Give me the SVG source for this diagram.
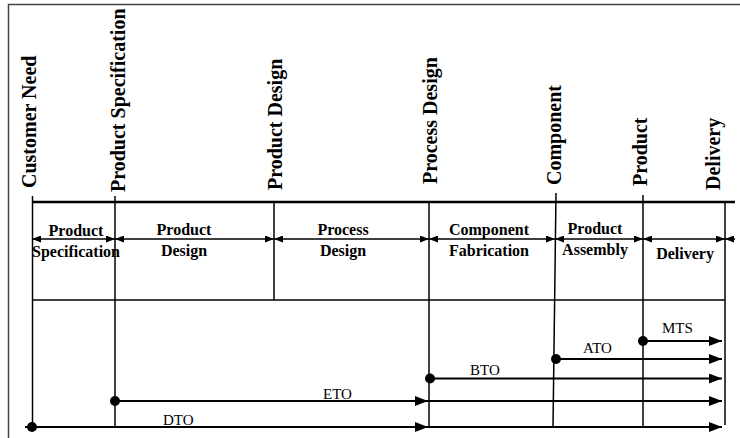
<svg xmlns="http://www.w3.org/2000/svg" width="740" height="438" viewBox="0 0 740 438">
<style>
.frame{stroke:#444;stroke-width:1.5;fill:none}
.axis{stroke:#000;stroke-width:2.5;fill:none}
.vl{stroke:#000;stroke-width:1.5;fill:none}
.phase{stroke:#000;stroke-width:1.5;fill:none;marker-start:url(#sa);marker-end:url(#sa)}
.flow{stroke:#000;stroke-width:2.2;fill:none;marker-end:url(#ba)}
.ms{font-family:"Liberation Serif","Times New Roman",serif;font-weight:bold;font-size:20px;fill:#000}
.ph{font-family:"Liberation Serif","Times New Roman",serif;font-weight:bold;font-size:16px;fill:#000;text-anchor:middle}
.st{font-family:"Liberation Serif","Times New Roman",serif;font-size:15px;fill:#000}
.dot{fill:#000}
</style>
<defs>
<marker id="sa" viewBox="0 0 9 7" refX="9" refY="3.5" markerWidth="9" markerHeight="7" markerUnits="userSpaceOnUse" orient="auto-start-reverse"><path d="M0,0 L9,3.5 L0,7 z" fill="#000"/></marker>
<marker id="ba" viewBox="0 0 13 10" refX="13" refY="5" markerWidth="13" markerHeight="10" markerUnits="userSpaceOnUse" orient="auto"><path d="M0,0 L13,5 L0,10 z" fill="#000"/></marker>
</defs>
<rect width="740" height="438" fill="#fff"/>
<path class="frame" d="M8.5,438 V4.5 H740"/>
<line class="axis" x1="32" y1="202" x2="735" y2="202"/>
<line class="vl" x1="32" y1="300" x2="725" y2="300"/>

<g id="m-customer-need"><line class="vl" x1="32.5" y1="196" x2="32.5" y2="427"/><text class="ms" transform="translate(36,188) rotate(-90)">Customer Need</text></g>
<g id="m-product-specification"><line class="vl" x1="115" y1="196" x2="115" y2="427"/><text class="ms" transform="translate(125,192) rotate(-90)">Product Specification</text></g>
<g id="m-product-design"><line class="vl" x1="274" y1="202" x2="274" y2="300"/><text class="ms" transform="translate(282,190) rotate(-90)">Product Design</text></g>
<g id="m-process-design"><line class="vl" x1="429" y1="202" x2="429" y2="427"/><text class="ms" transform="translate(437,184) rotate(-90)">Process Design</text></g>
<g id="m-component"><line class="vl" x1="556" y1="193" x2="553" y2="427"/><text class="ms" transform="translate(561,185) rotate(-90)">Component</text></g>
<g id="m-product"><line class="vl" x1="643" y1="195" x2="643" y2="427"/><text class="ms" transform="translate(647,186) rotate(-90)">Product</text></g>
<g id="m-delivery"><line class="vl" x1="725" y1="202" x2="725" y2="425"/><text class="ms" transform="translate(720,190) rotate(-90)">Delivery</text></g>

<g id="phases">
<g id="p-product-specification"><line class="phase" x1="32" y1="239" x2="115" y2="239"/><text class="ph" x="76" y="236">Product</text><text class="ph" x="76" y="257">Specification</text></g>
<g id="p-product-design"><line class="phase" x1="115" y1="239" x2="274" y2="239"/><text class="ph" x="184" y="235">Product</text><text class="ph" x="184" y="256">Design</text></g>
<g id="p-process-design"><line class="phase" x1="274" y1="239" x2="429" y2="239"/><text class="ph" x="343" y="235">Process</text><text class="ph" x="343" y="256">Design</text></g>
<g id="p-component-fabrication"><line class="phase" x1="429" y1="239" x2="555" y2="239"/><text class="ph" x="489" y="235">Component</text><text class="ph" x="489" y="256">Fabrication</text></g>
<g id="p-product-assembly"><line class="phase" x1="555" y1="239" x2="643" y2="239"/><text class="ph" x="595" y="234">Product</text><text class="ph" x="595" y="255">Assembly</text></g>
<g id="p-delivery"><line class="phase" x1="643" y1="239" x2="725" y2="239"/><text class="ph" x="685" y="259">Delivery</text></g>
<line x1="725" y1="239" x2="735" y2="239" stroke="#000" stroke-width="1.5" marker-start="url(#sa)"/>
</g>

<g id="connectors">
<g id="s-mts"><circle class="dot" cx="643" cy="341" r="5"/><line class="flow" x1="643" y1="341" x2="722" y2="341"/><text class="st" x="662" y="333">MTS</text></g>
<g id="s-ato"><circle class="dot" cx="556" cy="359" r="5"/><line class="flow" x1="556" y1="359" x2="722" y2="359"/><text class="st" x="583" y="353">ATO</text></g>
<g id="s-bto"><circle class="dot" cx="430" cy="378.5" r="5"/><line class="flow" x1="430" y1="378.5" x2="722" y2="378.5"/><text class="st" x="470" y="375">BTO</text></g>
<g id="s-eto"><circle class="dot" cx="115" cy="401" r="5"/><line class="flow" x1="115" y1="401" x2="428" y2="401"/><line class="flow" x1="428" y1="401" x2="722" y2="401"/><text class="st" x="323" y="399">ETO</text></g>
<g id="s-dto"><circle class="dot" cx="32" cy="427" r="5"/><line class="flow" x1="25" y1="427" x2="428" y2="427"/><line class="flow" x1="428" y1="427" x2="722" y2="427"/><text class="st" x="163" y="425">DTO</text></g>
</g>
</svg>
